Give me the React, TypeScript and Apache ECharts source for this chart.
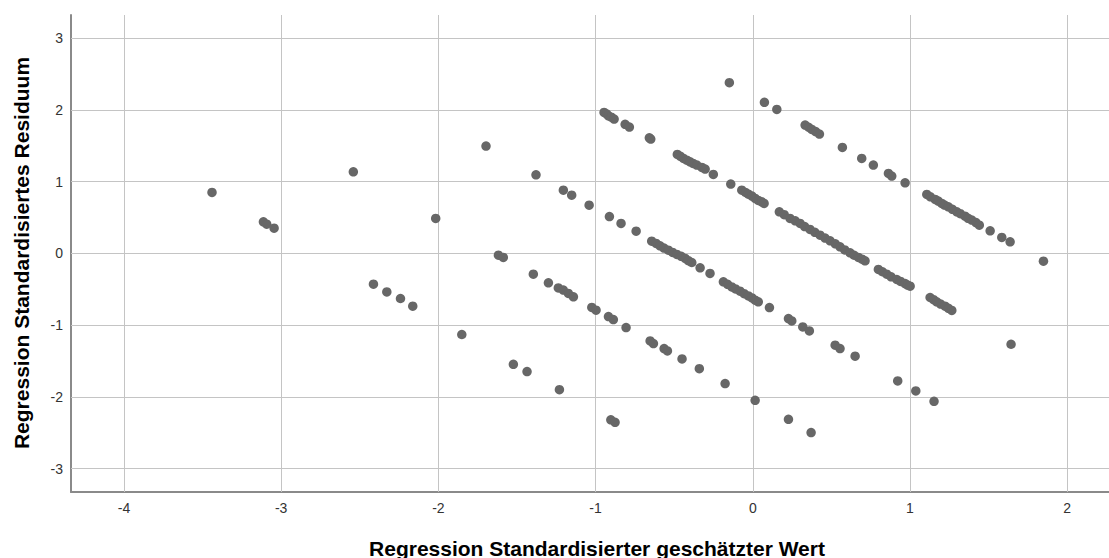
import React, { useEffect, useRef } from "react";
import * as echarts from "echarts";

const xTicks = [-4, -3, -2, -1, 0, 1, 2];
const yTicks = [-3, -2, -1, 0, 1, 2, 3];
const xTitle = "Regression Standardisierter geschätzter Wert";
const yTitle = "Regression Standardisiertes Residuum";

// Band A (top)
const bandA: [number, number][] = [
  [-0.149, 2.381], [0.074, 2.107], [0.153, 2.009], [0.333, 1.79], [0.355, 1.76],
  [0.375, 1.73], [0.4, 1.7], [0.424, 1.665], [0.57, 1.479], [0.693, 1.325],
  [0.767, 1.232], [0.863, 1.116], [0.884, 1.079], [0.969, 0.985], [1.107, 0.823],
  [1.13, 0.79], [1.16, 0.753], [1.18, 0.73], [1.202, 0.697], [1.22, 0.675],
  [1.244, 0.65], [1.27, 0.615], [1.298, 0.581], [1.32, 0.555], [1.35, 0.52],
  [1.37, 0.49], [1.393, 0.465], [1.42, 0.43], [1.441, 0.395], [1.51, 0.316],
  [1.584, 0.223], [1.637, 0.162], [1.849, -0.107],
];

// Band B
const bandB: [number, number][] = [
  [-0.946, 1.967], [-0.93, 1.945], [-0.918, 1.92], [-0.9, 1.9], [-0.882, 1.874],
  [-0.812, 1.8], [-0.785, 1.762], [-0.658, 1.613], [-0.649, 1.595], [-0.48, 1.381],
  [-0.46, 1.355], [-0.441, 1.325], [-0.42, 1.3], [-0.399, 1.278], [-0.38, 1.255],
  [-0.356, 1.232], [-0.324, 1.2], [-0.303, 1.176], [-0.251, 1.102], [-0.14, 0.967],
  [-0.07, 0.883], [-0.045, 0.85], [-0.028, 0.827], [-0.005, 0.8], [0.015, 0.767],
  [0.035, 0.74], [0.057, 0.72], [0.072, 0.697], [0.169, 0.581], [0.2, 0.54],
  [0.237, 0.488], [0.27, 0.455], [0.301, 0.418], [0.33, 0.375], [0.364, 0.335],
  [0.395, 0.295], [0.428, 0.255], [0.46, 0.215], [0.492, 0.176], [0.525, 0.135],
  [0.555, 0.092], [0.585, 0.05], [0.619, 0.009], [0.645, -0.025], [0.672, -0.056],
  [0.695, -0.08], [0.714, -0.103], [0.799, -0.223], [0.825, -0.255], [0.852, -0.289],
  [0.88, -0.325], [0.916, -0.363], [0.94, -0.39], [0.969, -0.419], [0.985, -0.44],
  [1.001, -0.456], [1.128, -0.614], [1.15, -0.645], [1.17, -0.675], [1.195, -0.705],
  [1.223, -0.735], [1.245, -0.765], [1.266, -0.795], [1.643, -1.266],
];

// Band C
const bandC: [number, number][] = [
  [-1.697, 1.497], [-1.379, 1.097], [-1.205, 0.883], [-1.152, 0.813], [-1.041, 0.674],
  [-0.912, 0.514], [-0.838, 0.419], [-0.742, 0.311], [-0.643, 0.172], [-0.615, 0.14],
  [-0.59, 0.106], [-0.565, 0.075], [-0.537, 0.046], [-0.51, 0.015], [-0.483, -0.014],
  [-0.455, -0.04], [-0.43, -0.07], [-0.41, -0.1], [-0.388, -0.126], [-0.335, -0.2],
  [-0.272, -0.279], [-0.187, -0.396], [-0.16, -0.43], [-0.134, -0.466], [-0.11, -0.495],
  [-0.081, -0.526], [-0.055, -0.56], [-0.028, -0.592], [-0.005, -0.62], [0.015, -0.652],
  [0.035, -0.675], [0.106, -0.754], [0.227, -0.907], [0.248, -0.94], [0.318, -1.024],
  [0.36, -1.08], [0.524, -1.279], [0.555, -1.326], [0.651, -1.433], [0.922, -1.777],
  [1.037, -1.917], [1.153, -2.061],
];

// Band D
const bandD: [number, number][] = [
  [-2.541, 1.139], [-2.017, 0.488], [-1.618, -0.024], [-1.587, -0.056], [-1.396, -0.289],
  [-1.3, -0.41], [-1.237, -0.48], [-1.205, -0.51], [-1.173, -0.558], [-1.141, -0.605],
  [-1.024, -0.753], [-0.997, -0.791], [-0.918, -0.88], [-0.887, -0.921], [-0.806, -1.033],
  [-0.653, -1.219], [-0.632, -1.256], [-0.564, -1.326], [-0.543, -1.359], [-0.45, -1.47],
  [-0.34, -1.607], [-0.176, -1.814], [0.015, -2.047], [0.227, -2.312], [0.371, -2.498],
];

// Band E (bottom)
const bandE: [number, number][] = [
  [-3.44, 0.851], [-3.113, 0.441], [-3.092, 0.409], [-3.045, 0.353], [-2.413, -0.428],
  [-2.328, -0.536], [-2.241, -0.628], [-2.163, -0.735], [-1.851, -1.13], [-1.523, -1.545],
  [-1.436, -1.647], [-1.23, -1.9], [-0.903, -2.32], [-0.876, -2.354],
];

const FONT = '"Liberation Sans", Arial, sans-serif';

export default function App() {
  const ref = useRef<HTMLDivElement>(null);
  useEffect(() => {
    if (!ref.current) return;
    const chart = echarts.init(ref.current, null, { renderer: "svg" });
    const points = [...bandA, ...bandB, ...bandC, ...bandD, ...bandE];
    chart.setOption({
      animation: false,
      backgroundColor: "#ffffff",
      grid: { left: 71, right: 0, top: 15, bottom: 66 },
      xAxis: {
        type: "value",
        min: -4.337,
        max: 2.266,
        axisLine: { show: true, onZero: false, lineStyle: { color: "#8a8a8a", width: 2 } },
        axisTick: { show: false },
        splitLine: { show: false },
        axisLabel: {
          customValues: xTicks,
          color: "#333",
          fontSize: 14,
          fontFamily: FONT,
          margin: 9,
        },
      },
      yAxis: {
        type: "value",
        min: -3.326,
        max: 3.325,
        axisLine: { show: true, onZero: false, lineStyle: { color: "#8a8a8a", width: 2 } },
        axisTick: { show: false },
        splitLine: { show: false },
        axisLabel: {
          customValues: yTicks,
          color: "#333",
          fontSize: 14,
          fontFamily: FONT,
          margin: 8,
        },
      },
      graphic: [
        {
          type: "text",
          x: 597,
          y: 548,
          style: {
            text: xTitle,
            fontSize: 21,
            fontWeight: "bold",
            fontFamily: FONT,
            fill: "#000",
            align: "center",
            verticalAlign: "middle",
          },
        },
        {
          type: "text",
          x: 21,
          y: 253,
          rotation: Math.PI / 2,
          style: {
            text: yTitle,
            fontSize: 21,
            fontWeight: "bold",
            fontFamily: FONT,
            fill: "#000",
            align: "center",
            verticalAlign: "middle",
          },
        },
      ],
      series: [
        {
          type: "scatter",
          data: [],
          z: 1,
          silent: true,
          markLine: {
            z: 1,
            silent: true,
            symbol: ["none", "none"],
            label: { show: false },
            lineStyle: { color: "#c4c4c4", width: 1, type: "solid" },
            data: [
              ...xTicks.map((v) => ({ xAxis: v })),
              ...yTicks.map((v) => ({ yAxis: v })),
            ],
          },
        },
        {
          type: "scatter",
          z: 3,
          data: points,
          symbol: "circle",
          symbolSize: 9.5,
          itemStyle: { color: "#676767", opacity: 1 },
        },
      ],
    });
    return () => chart.dispose();
  }, []);
  return (
    <div
      ref={ref}
      style={{ position: "fixed", left: 0, top: 0, width: 1109, height: 558, background: "#fff" }}
    />
  );
}
